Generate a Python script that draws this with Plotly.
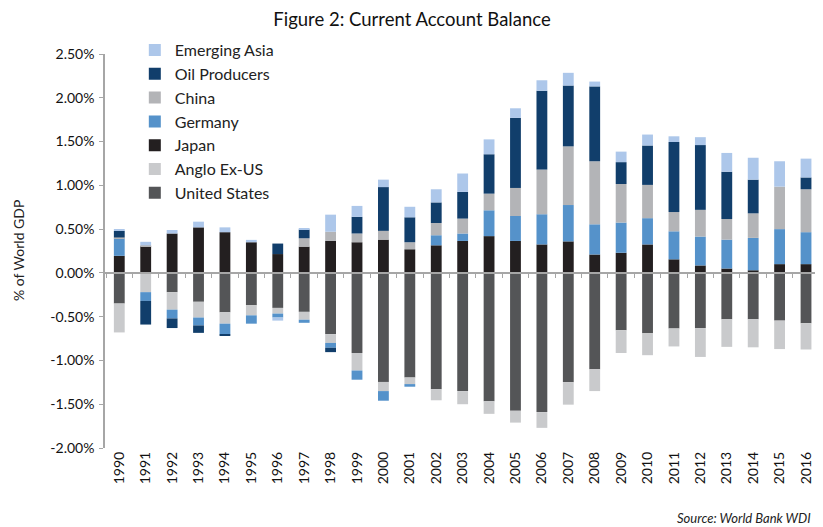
import plotly.graph_objects as go

years = [str(y) for y in range(1990, 2017)]

# values in % of world GDP
united_states = [-0.35, 0.0, -0.22, -0.33, -0.45, -0.37, -0.40, -0.445, -0.70, -0.915,
                 -1.245, -1.195, -1.33, -1.35, -1.465, -1.575, -1.59, -1.25, -1.10, -0.655,
                 -0.69, -0.635, -0.63, -0.53, -0.53, -0.545, -0.575]
anglo_ex_us = [-0.33, -0.22, -0.20, -0.18, -0.13, -0.115, -0.065, -0.09, -0.10, -0.20,
               -0.105, -0.075, -0.125, -0.15, -0.145, -0.135, -0.18, -0.255, -0.25, -0.26,
               -0.25, -0.205, -0.33, -0.315, -0.32, -0.325, -0.30]
japan = [0.195, 0.305, 0.45, 0.52, 0.465, 0.35, 0.215, 0.30, 0.365, 0.35,
         0.38, 0.27, 0.315, 0.365, 0.42, 0.365, 0.325, 0.36, 0.21, 0.23,
         0.325, 0.155, 0.085, 0.05, 0.03, 0.10, 0.10]
germany = [0.20, -0.10, -0.10, -0.09, -0.12, -0.095, -0.045, -0.035, -0.055, -0.105,
           -0.11, -0.03, 0.115, 0.085, 0.295, 0.285, 0.345, 0.415, 0.345, 0.345,
           0.30, 0.32, 0.33, 0.33, 0.37, 0.40, 0.365]
china = [0.01, 0.01, 0.0, 0.0, 0.0, 0.0, 0.0, 0.095, 0.105, 0.10,
         0.10, 0.08, 0.14, 0.17, 0.19, 0.32, 0.51, 0.67, 0.72, 0.44,
         0.38, 0.22, 0.305, 0.235, 0.28, 0.485, 0.49]
oil_producers = [0.075, -0.27, -0.11, -0.085, -0.015, 0.0, 0.12, 0.10, -0.05, 0.19,
                 0.50, 0.285, 0.235, 0.305, 0.45, 0.80, 0.90, 0.695, 0.855, 0.25,
                 0.45, 0.80, 0.74, 0.54, 0.385, 0.0, 0.135]
emerging_asia = [0.02, 0.04, 0.04, 0.065, 0.055, 0.027, -0.035, 0.015, 0.195, 0.125,
                 0.085, 0.12, 0.15, 0.21, 0.17, 0.11, 0.12, 0.145, 0.055, 0.12,
                 0.125, 0.065, 0.09, 0.215, 0.25, 0.29, 0.215]

series_names = ["United States", "Anglo Ex-US", "Japan", "Germany", "China",
                "Oil Producers", "Emerging Asia"]
series_values = [united_states, anglo_ex_us, japan, germany, china,
                 oil_producers, emerging_asia]
series_colors = ["#545557", "#c9cacc", "#231f20", "#5592ca", "#b3b4b7",
                 "#113e6b", "#adc7ea"]

y_tick_vals = [-2.0, -1.5, -1.0, -0.5, 0.0, 0.5, 1.0, 1.5, 2.0, 2.5]
y_tick_text = ["-2.00%", "-1.50%", "-1.00%", "-0.50%", "0.00%", "0.50%",
               "1.00%", "1.50%", "2.00%", "2.50%"]

FONT = "Lato"
x_range = [-0.541, 26.34]

fig = go.Figure()
n = len(series_names)
for i, (name, vals, col) in enumerate(zip(series_names, series_values, series_colors)):
    fig.add_trace(go.Bar(
        x=years, y=vals, name=name, legendgroup=name, legendrank=n - i,
        marker=dict(color=col, line=dict(width=0)),
    ))

# invisible helper trace for the zero-line axis with boundary ticks
fig.add_trace(go.Scatter(
    x=years, y=[0] * len(years), xaxis="x2", yaxis="y", mode="markers",
    marker=dict(opacity=0), showlegend=False, hoverinfo="skip",
))

# page body has an 8px margin, so the figure is drawn smaller
W, H = 807, 519
plot_bottom = 440
fig.update_layout(
    width=W, height=H,
    paper_bgcolor="white", plot_bgcolor="white",
    barmode="relative", bargap=0.59,
    margin=dict(l=97, r=0, t=46, b=H - plot_bottom, autoexpand=False),
    font=dict(family=FONT, size=14, color="#222222"),
    title=dict(text="Figure 2: Current Account Balance", x=(412 - 8) / W,
               xref="container", xanchor="center", y=1 - 12 / H, yref="container",
               yanchor="middle",
               font=dict(family=FONT, size=18.5, color="#111111")),
    legend=dict(x=0.042, y=1.053, xanchor="left", yanchor="top",
                traceorder="grouped", tracegroupgap=0,
                font=dict(family=FONT, size=16, color="#222222"),
                bgcolor="rgba(0,0,0,0)", itemclick=False),
    xaxis=dict(type="category", categoryorder="array", categoryarray=years,
               range=x_range, showline=False, ticks="", tickangle=-90,
               tickfont=dict(family=FONT, size=14, color="#111111"),
               showgrid=False, zeroline=False),
    xaxis2=dict(type="category", categoryorder="array", categoryarray=years,
                range=x_range, overlaying="x", anchor="free", position=2.0 / 4.5,
                showline=True, linecolor="#a6a6a6", linewidth=1.5,
                ticks="outside", tickson="boundaries", ticklen=4,
                tickcolor="#a6a6a6", tickwidth=1,
                showticklabels=False, showgrid=False, zeroline=False),
    yaxis=dict(range=[-2.0, 2.5], tickvals=y_tick_vals, ticktext=y_tick_text,
               showline=True, linecolor="#a6a6a6", linewidth=1.5,
               ticks="outside", ticklen=4, tickcolor="#a6a6a6",
               ticklabelstandoff=2,
               tickfont=dict(family=FONT, size=14, color="#111111"),
               showgrid=False, zeroline=False),
    annotations=[
        dict(text="% of World GDP", textangle=-90, xref="paper", yref="paper",
             x=-0.1225, y=0.5, xanchor="center", yanchor="middle", showarrow=False,
             font=dict(family=FONT, size=14, color="#222222")),
        dict(text="<i>Source: World Bank WDI</i>", xref="paper", yref="paper",
             x=1, xshift=-2, y=-(510 - plot_bottom) / 394, xanchor="right",
             yanchor="middle", showarrow=False,
             font=dict(family=FONT, size=13, color="#222222")),
    ],
)

fig.write_html("out.html")
